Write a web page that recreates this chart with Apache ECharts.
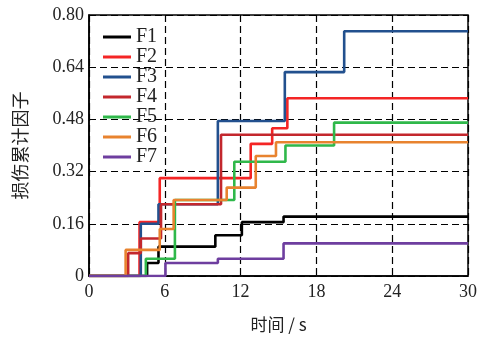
<!DOCTYPE html>
<html>
<head>
<meta charset="utf-8">
<script src="https://cdn.jsdelivr.net/npm/echarts@6/dist/echarts.min.js"></script>
<style>
html,body{margin:0;padding:0;background:#fff;}
#c{width:484px;height:345px;}
</style>
</head>
<body>
<div id="c"></div>
<script>
const seriesNames = ['F1','F2','F3','F4','F5','F6','F7'];
const f1T = [0, 4.6, 5.5, 10.0, 12.1, 15.4, 30];
const f1V = [0, 0.04, 0.09, 0.125, 0.165, 0.182, 0.182];
const f2T = [0, 4.0, 5.6, 12.8, 14.5, 15.7, 30];
const f2V = [0, 0.165, 0.30, 0.405, 0.453, 0.545, 0.545];
const f3T = [0, 4.1, 5.5, 10.2, 15.5, 20.2, 30];
const f3V = [0, 0.16, 0.22, 0.475, 0.625, 0.75, 0.75];
const f4T = [0, 3.1, 4.1, 5.7, 10.45, 30];
const f4V = [0, 0.07, 0.115, 0.22, 0.433, 0.433];
const f5T = [0, 4.5, 6.8, 11.5, 15.55, 19.4, 30];
const f5V = [0, 0.053, 0.233, 0.35, 0.40, 0.47, 0.47];
const f6T = [0, 2.9, 5.6, 6.7, 10.9, 13.2, 14.8, 30];
const f6V = [0, 0.08, 0.144, 0.233, 0.271, 0.368, 0.41, 0.41];
const f7T = [0, 6.05, 10.2, 15.4, 30];
const f7V = [0, 0.04, 0.053, 0.10, 0.10];
const xTicks = [0, 6, 12, 18, 24, 30];
const yTicks = ['0', '0.16', '0.32', '0.48', '0.64', '0.80'];

const colors = ['#000000', '#f42525', '#22508e', '#c3272d', '#2fb84a', '#e8832f', '#6e3e9f'];
const allT = [f1T, f2T, f3T, f4T, f5T, f6T, f7T];
const allV = [f1V, f2V, f3V, f4V, f5V, f6V, f7V];

const serif = 'Liberation Serif';
const chart = echarts.init(document.getElementById('c'));
chart.setOption({
  animation: false,
  backgroundColor: '#fff',
  textStyle: {fontFamily: serif},
  grid: {left: 89, right: 16, top: 15, bottom: 69, show: true, borderColor: '#000', borderWidth: 1.5, backgroundColor: 'transparent'},
  legend: {
    orient: 'vertical', left: 98, top: 22, itemWidth: 28, itemHeight: 3, itemGap: 0,
    icon: 'rect',
    textStyle: {fontFamily: serif, fontSize: 20, lineHeight: 19, height: 19, color: '#222', verticalAlign: 'middle'},
    data: seriesNames
  },
  xAxis: {
    type: 'value', min: 0, max: 30, interval: 6,
    name: '时间 / s', nameLocation: 'middle', nameGap: 40,
    nameTextStyle: {fontFamily: 'Noto Sans CJK SC', fontSize: 17, color: '#222'},
    axisLine: {show: true, lineStyle: {color: '#000', width: 1.5}},
    axisTick: {show: false},
    axisLabel: {fontFamily: serif, fontSize: 18, color: '#222', margin: 7,
      formatter: v => xTicks.indexOf(v) >= 0 ? String(v) : ''},
    splitLine: {show: true, lineStyle: {color: '#000', type: [7, 4], width: 1.2}}
  },
  yAxis: {
    type: 'value', min: 0, max: 0.8, interval: 0.16,
    name: '损伤累计因子', nameLocation: 'middle', nameGap: 60, nameRotate: 90,
    nameTextStyle: {fontFamily: 'Noto Sans CJK SC', fontSize: 18, color: '#222'},
    axisLine: {show: true, lineStyle: {color: '#000', width: 1.5}},
    axisTick: {show: false},
    axisLabel: {fontFamily: serif, fontSize: 18, color: '#222', margin: 5,
      formatter: v => yTicks[Math.round(v / 0.16)]},
    splitLine: {show: true, lineStyle: {color: '#000', type: [7, 4], width: 1.2}}
  },
  series: seriesNames.map((n, i) => ({
    name: n, type: 'line', step: 'end', showSymbol: false, symbol: 'none',
    color: colors[i],
    lineStyle: {width: 2.6, color: colors[i]},
    data: allT[i].map((t, k) => [t, allV[i][k]])
  }))
});
</script>
</body>
</html>
